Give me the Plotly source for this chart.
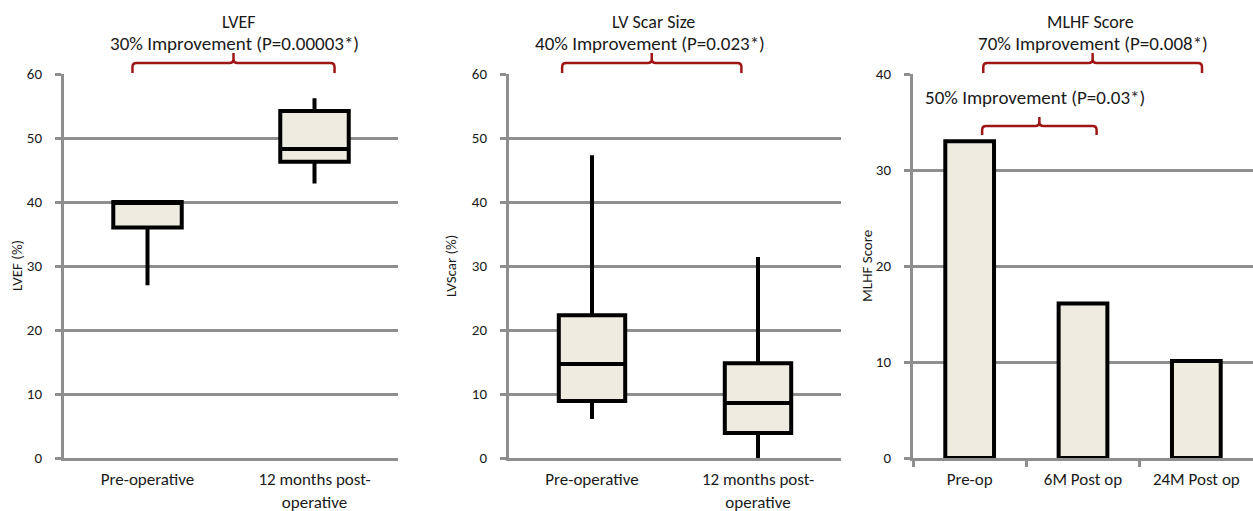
import plotly.graph_objects as go

# ---------------- data ----------------
lvef_cats = ["Pre-operative", "12 months post-<br>operative"]
lvef_q1 = [36, 46.3]
lvef_median = [40, 48.3]
lvef_q3 = [40, 54.2]
lvef_low = [27, 42.9]
lvef_high = [40, 56.2]

scar_cats = ["Pre-operative", "12 months post-<br>operative"]
scar_q1 = [8.9, 3.9]
scar_median = [14.7, 8.6]
scar_q3 = [22.3, 14.8]
scar_low = [6.1, 0]
scar_high = [47.3, 31.4]

mlhf_cats = ["Pre-op", "6M Post op", "24M Post op"]
mlhf_vals = [33, 16.1, 10.1]

titles = ["LVEF", "LV Scar Size", "MLHF Score"]
subtitles = ["30% Improvement (P=0.00003*)", "40% Improvement (P=0.023*)",
             "70% Improvement (P=0.008*)"]
sub2 = "50% Improvement (P=0.03*)"
ytitles = ["LVEF (%)", "LVScar (%)", "MLHF Score"]

# ---------------- styling ----------------
W, H = 1253, 511
FONT = "Carlito, Lato, sans-serif"
GRID = "#8e8e8e"
FILL = "#EEEBE0"
RED = "#9E1616"
TXT = "#1a1a1a"

def px(x):
    return x / W

def py(y):
    return (H - y) / H

doms = [(64, 398), (509, 841), (913, 1253)]
ytop, ybot = 74, 458

fig = go.Figure()

fig.add_trace(go.Box(x=lvef_cats, q1=lvef_q1, median=lvef_median, q3=lvef_q3,
                     lowerfence=lvef_low, upperfence=lvef_high,
                     fillcolor=FILL, line=dict(color="black", width=4),
                     whiskerwidth=0, width=0.41, boxpoints=False,
                     xaxis="x", yaxis="y", showlegend=False, hoverinfo="skip"))
fig.add_trace(go.Box(x=scar_cats, q1=scar_q1, median=scar_median, q3=scar_q3,
                     lowerfence=scar_low, upperfence=scar_high,
                     fillcolor=FILL, line=dict(color="black", width=4),
                     whiskerwidth=0, width=0.40, boxpoints=False,
                     xaxis="x2", yaxis="y2", showlegend=False, hoverinfo="skip"))
fig.add_trace(go.Bar(x=mlhf_cats, y=mlhf_vals, width=0.43,
                     marker=dict(color=FILL, line=dict(color="black", width=4)),
                     xaxis="x3", yaxis="y3", showlegend=False, hoverinfo="skip"))

ydom = [py(ybot), py(ytop)]
layout = dict(
    width=W, height=H, margin=dict(l=0, r=0, t=0, b=0, autoexpand=False),
    paper_bgcolor="white", plot_bgcolor="white",
    font=dict(family=FONT, color=TXT, size=15),
)
ranges = [[0, 60], [0, 60], [0, 40]]
ncat = [len(lvef_cats), len(scar_cats), len(mlhf_cats)]
for i, (d0, d1) in enumerate(doms):
    sfx = "" if i == 0 else str(i + 1)
    xa = dict(domain=[px(d0), px(d1)], anchor="y" + sfx, type="category",
              range=[-0.5, ncat[i] - 0.5],
              showline=True, linecolor=GRID, linewidth=3, showgrid=False,
              tickfont=dict(size=17, color=TXT, family=FONT),
              ticklabelstandoff=4, fixedrange=True, automargin=False)
    if i == 2:
        xa.update(ticks="outside", tickson="boundaries", ticklen=6,
                  tickcolor=GRID, tickwidth=3)
    else:
        xa.update(ticks="")
    ya = dict(domain=ydom, anchor="x" + sfx, range=ranges[i], dtick=10,
              showgrid=True, gridcolor=GRID, gridwidth=3,
              showline=True, linecolor=GRID, linewidth=3,
              zeroline=False, ticks="outside", ticklen=6, tickcolor=GRID,
              tickwidth=3, ticklabelstandoff=10, automargin=False,
              tickfont=dict(size=15, color=TXT, family=FONT), fixedrange=True)
    layout["xaxis" + sfx] = xa
    layout["yaxis" + sfx] = ya

fig.update_layout(**layout)

# ---------------- annotations ----------------
title_cx = [239, 653, 1090]
sub_cx = [234, 650, 1093]
for i in range(3):
    fig.add_annotation(x=px(title_cx[i]), y=py(22), xref="paper", yref="paper",
                       xanchor="center", yanchor="middle",
                       text=titles[i], showarrow=False,
                       font=dict(size=18, color=TXT, family=FONT))
    fig.add_annotation(x=px(sub_cx[i]), y=py(43), xref="paper", yref="paper",
                       xanchor="center", yanchor="middle",
                       text=subtitles[i], showarrow=False,
                       font=dict(size=19, color=TXT, family=FONT))

ytitle_x = [17, 451, 867]
for i in range(3):
    fig.add_annotation(x=px(ytitle_x[i]), y=py(266), xref="paper", yref="paper",
                       xanchor="center", yanchor="middle",
                       text=ytitles[i], showarrow=False, textangle=-90,
                       font=dict(size=15, color=TXT, family=FONT))

fig.add_annotation(x=px(923), y=py(97), xref="paper", yref="paper",
                   text=sub2, showarrow=False, xanchor="left", yanchor="middle",
                   font=dict(size=19, color=TXT, family=FONT))

# brackets, positioned in category units of each panel
def cat_to_px(panel, pos, n):
    d0, d1 = doms[panel]
    return d0 + (pos + 0.5) / n * (d1 - d0)

def bracket(xl, xr, y_end, y_bar, y_tip, r=4):
    xc = (xl + xr) / 2
    pts = [
        ("M", [(xl, y_end)]), ("L", [(xl, y_bar + r)]),
        ("Q", [(xl, y_bar), (xl + r, y_bar)]), ("L", [(xc - r, y_bar)]),
        ("Q", [(xc, y_bar), (xc, y_bar - r)]), ("L", [(xc, y_tip)]),
        ("M", [(xc, y_bar - r)]), ("Q", [(xc, y_bar), (xc + r, y_bar)]),
        ("L", [(xr - r, y_bar)]), ("Q", [(xr, y_bar), (xr, y_bar + r)]),
        ("L", [(xr, y_end)]),
    ]
    s = ""
    for cmd, ps in pts:
        s += cmd + " " + " ".join(f"{px(a):.5f},{py(b):.5f}" for a, b in ps) + " "
    return s.strip()

brackets = [
    (0, -0.09, 1.12, 2, 73, 63, 53),
    (1, -0.18, 0.90, 2, 73, 63, 53),
    (2, 0.12, 2.05, 3, 73, 63, 53),
    (2, 0.11, 1.12, 3, 135, 126, 117),
]
for panel, a, b, n, ye, yb, yt in brackets:
    fig.add_shape(type="path", xref="paper", yref="paper",
                  path=bracket(cat_to_px(panel, a, n), cat_to_px(panel, b, n), ye, yb, yt),
                  line=dict(color=RED, width=2.5))

fig.write_html("out.html", config={"displayModeBar": False},
               post_script="document.body.style.margin='0';document.body.style.overflow='hidden';")
